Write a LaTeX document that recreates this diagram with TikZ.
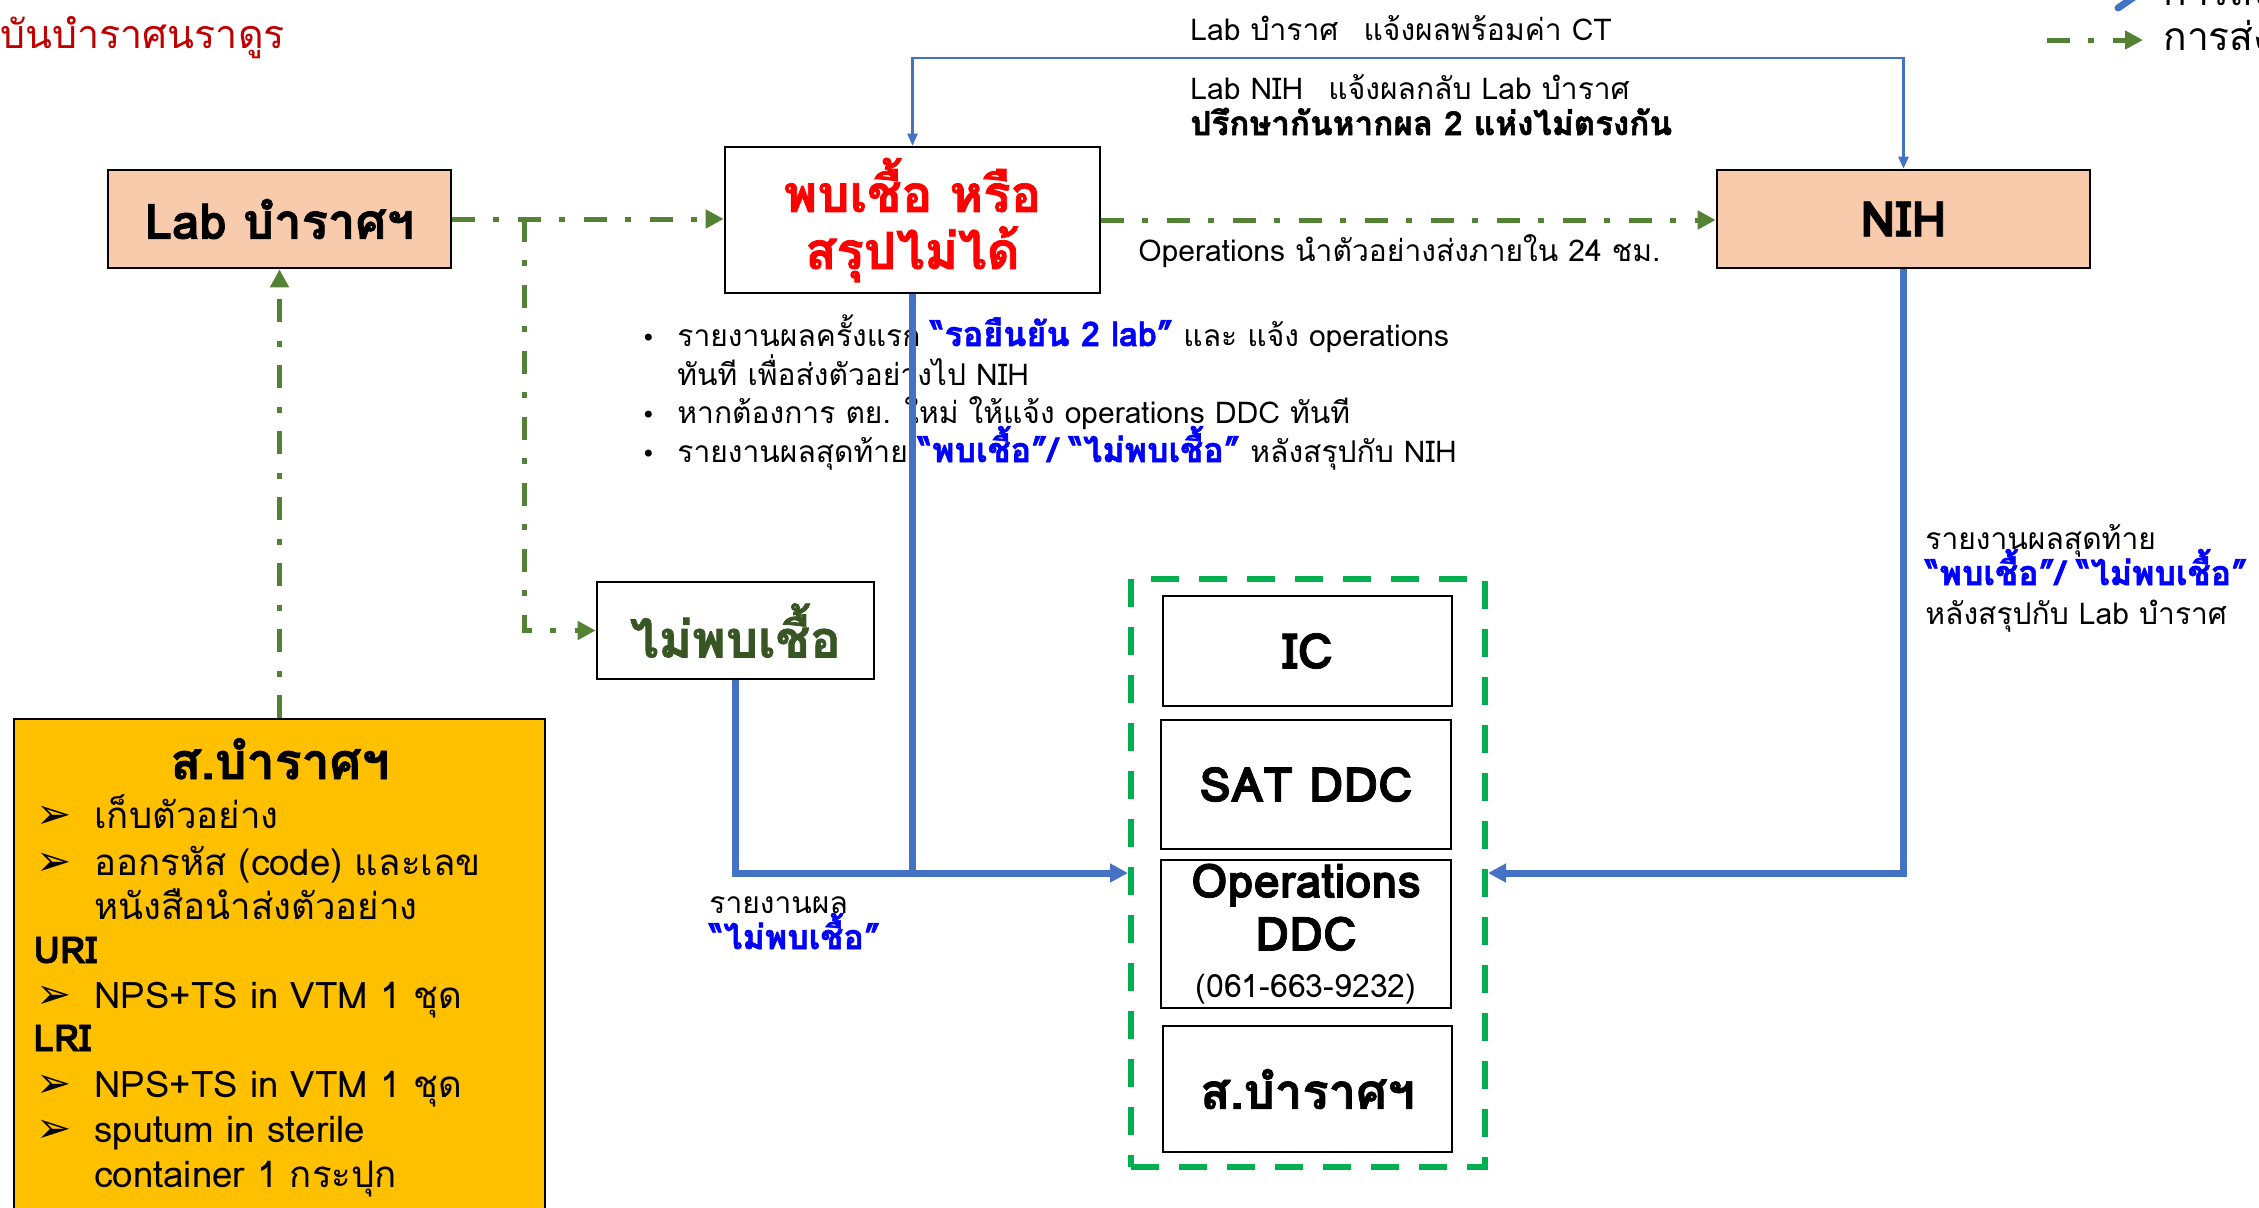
\documentclass[tikz,border=0pt]{standalone}
\usepackage{fontspec}
\setmainfont{Loma}[Script=Thai, BoldFeatures={FakeBold=1.5}]
\newfontfamily\dejavu{DejaVu Sans}
\usetikzlibrary{arrows.meta,calc}
\definecolor{peach}{HTML}{F8CBAD}
\definecolor{gold}{HTML}{FFC000}
\definecolor{lblue}{HTML}{4472C4}
\definecolor{lgreen}{HTML}{548235}
\definecolor{bgreen}{HTML}{00B050}
\definecolor{dgreen}{HTML}{375623}
\definecolor{dred}{HTML}{C00000}
\definecolor{tblue}{HTML}{0000FF}
\definecolor{tred}{HTML}{FF0000}
\newcommand{\fs}[2]{\fontsize{#1}{#2}\selectfont}
\newcommand{\arrb}{\makebox[29pt][l]{\dejavu\fs{21pt}{22pt}➢}}
\newcommand{\dotb}{\llap{\dejavu\fs{12pt}{15pt}•\hspace{11pt}}}
\newcommand{\bq}[1]{\textcolor{tblue}{\bfseries\fs{17pt}{18pt}#1}}
\begin{document}
\begin{tikzpicture}[x=0.5pt,y=-0.5pt,
  box/.style={draw=black, line width=1.3pt, inner sep=0pt, align=center},
  gline/.style={draw=lgreen, line width=2.5pt, dash pattern=on 11.5pt off 9pt on 3pt off 9.5pt, -{Triangle[length=9pt,width=9pt]}},
  bthick/.style={draw=lblue, line width=3.5pt},
  bthin/.style={draw=lblue, line width=1.2pt},
  tip/.style={-{Triangle[length=9pt,width=9pt]}},
  lbl/.style={anchor=base west, inner sep=0pt, font=\fs{15pt}{18pt}},
  lst/.style={anchor=base west, inner sep=0pt, font=\fs{18.3pt}{22pt}},
]
\useasboundingbox (0,0) rectangle (2259,1207);
\clip (0,0) rectangle (2259,1207);

% title and legend
\node[anchor=base west, inner sep=0pt, text=dred, font=\fs{19.7pt}{24pt}] (title) at (0,48) {บันบำราศนราดูร};
\coordinate (lb1) at (2118,8);
\coordinate (lb2) at (2137,-5);
\draw[lblue, line width=3.5pt, line cap=round] (lb1) -- (lb2);
\node[anchor=base west, inner sep=0pt, font=\fs{19.5pt}{23pt}] (lgt1) at (2163,5) {การส่ง};
\coordinate (lg1) at (2047,40);
\coordinate (lg2) at (2143,40);
\draw[gline] (lg1) -- (lg2);
\node[anchor=base west, inner sep=0pt, font=\fs{19.5pt}{23pt}] (lgt2) at (2163,50) {การส่ง};

% main boxes
\node[box, fill=peach, minimum width=171.5pt, minimum height=49pt, font=\bfseries\fs{24.5pt}{28pt}] (labB) at (279.5,219) {Lab บำราศฯ};
\node[box, fill=white, minimum width=187.5pt, minimum height=73pt, text=tred, font=\bfseries\fs{25.5pt}{28.5pt}] (pos) at (912.5,220) {พบเชื้อ หรือ\\สรุปไม่ได้};
\node[box, fill=peach, minimum width=186.5pt, minimum height=49pt, font=\bfseries\fs{24.5pt}{28pt}] (nih) at (1903.5,219) {NIH};
\node[box, fill=white, minimum width=138.5pt, minimum height=48.5pt, text=dgreen, font=\bfseries\fs{25.5pt}{28pt}] (neg) at (735.5,630.5) {ไม่พบเชื้อ};
\node[draw=black, line width=1pt, fill=gold, minimum width=265.5pt, minimum height=255.5pt, inner sep=0pt] (samp) at (279.5,974.5) {};

% group of recipients
\node[draw=bgreen, line width=3pt, dash pattern=on 14pt off 10pt, minimum width=177pt, minimum height=294pt, inner sep=0pt] (grp) at (1308,873) {};
\node[box, minimum width=144.5pt, minimum height=55pt, font=\bfseries\fs{24.5pt}{28pt}] (ic) at (1307.5,651) {IC};
\node[box, minimum width=145pt, minimum height=64.5pt, font=\bfseries\fs{24pt}{28pt}] (sat) at (1306,784.5) {SAT DDC};
\node[box, minimum width=145pt, minimum height=74pt, font=\bfseries\fs{23.5pt}{26.5pt}] (ops) at (1306,934) {Operations\\DDC\\[-3pt]{\mdseries\fs{16pt}{18pt}(061-663-9232)}};
\node[box, minimum width=144.5pt, minimum height=63pt, font=\bfseries\fs{24.5pt}{28pt}] (sb) at (1307.5,1089) {ส.บำราศฯ};

% labels on top
\node[lbl] (t1) at (1190,40) {Lab บำราศ\hspace{0.5em} แจ้งผลพร้อมค่า CT};
\node[lbl] (t2) at (1190,99) {Lab NIH\hspace{0.5em} แจ้งผลกลับ Lab บำราศ};
\node[lbl, font=\bfseries\fs{16.6pt}{18pt}] (t3) at (1190,135) {ปรึกษากันหากผล 2 แห่งไม่ตรงกัน};
\node[lbl] (t4) at (1138,261) {Operations นำตัวอย่างส่งภายใน 24 ชม.};

% notes under the positive box
\node[lbl] (n1) at (677,346) {\dotb รายงานผลครั้งแรก \bq{“รอยืนยัน 2 lab”} และ แจ้ง operations};
\node[lbl] (n2) at (677,385) {ทันที เพื่อส่งตัวอย่างไป NIH};
\node[lbl] (n3) at (677,423) {\dotb หากต้องการ ตย. ใหม่ ให้แจ้ง operations DDC ทันที};
\node[lbl] (n4) at (677,462) {\dotb รายงานผลสุดท้าย \bq{“พบเชื้อ”/ “ไม่พบเชื้อ”} หลังสรุปกับ NIH};

% right side text
\node[lbl] (r1) at (1925,549) {รายงานผลสุดท้าย};
\node[lbl] (r2) at (1925,585) {\bq{“พบเชื้อ”/ “ไม่พบเชื้อ”}};
\node[lbl] (r3) at (1925,624) {หลังสรุปกับ Lab บำราศ};

% negative report text
\node[lbl] (g1) at (709,913) {รายงานผล};
\node[lbl] (g2) at (709,949) {\bq{“ไม่พบเชื้อ”}};

% sample box content
\node[anchor=base, inner sep=0pt, font=\bfseries\fs{25pt}{28pt}] (st) at (280,779) {ส.บำราศฯ};
\node[lst] (s1) at (36,828) {\arrb เก็บตัวอย่าง};
\node[lst] (s2) at (36,875) {\arrb ออกรหัส (code) และเลข};
\node[lst] (s3) at (94,919) {หนังสือนำส่งตัวอย่าง};
\node[lst, font=\bfseries\fs{18.5pt}{22pt}] (s4) at (33,963) {URI};
\node[lst] (s5) at (36,1008) {\arrb NPS+TS in VTM 1 ชุด};
\node[lst, font=\bfseries\fs{18.5pt}{22pt}] (s6) at (33,1051) {LRI};
\node[lst] (s7) at (36,1097) {\arrb NPS+TS in VTM 1 ชุด};
\node[lst] (s8) at (36,1142) {\arrb sputum in sterile};
\node[lst] (s9) at (94,1187) {container 1 กระปุก};

% connectors
\draw[bthin, {Triangle[length=6pt,width=5pt]}-{Triangle[length=6pt,width=5pt]}] (pos.north) -- ++(0,-88) -| (nih.north);
\draw[bthick] (pos.south) -- (pos.south |- grp.west);
\draw[bthick, tip] (neg.south) |- (grp.west);
\draw[bthick, tip] (nih.south) |- (grp.east);
\draw[gline] (labB.east) -- (labB.east -| pos.west);
\coordinate (br) at ($(labB.east)+(72,0)$);
\draw[gline] (br) |- (neg.west);
\draw[gline] (samp.north) -- (labB.south);
\draw[gline] (pos.east) -- (pos.east -| nih.west);
\end{tikzpicture}
\end{document}
